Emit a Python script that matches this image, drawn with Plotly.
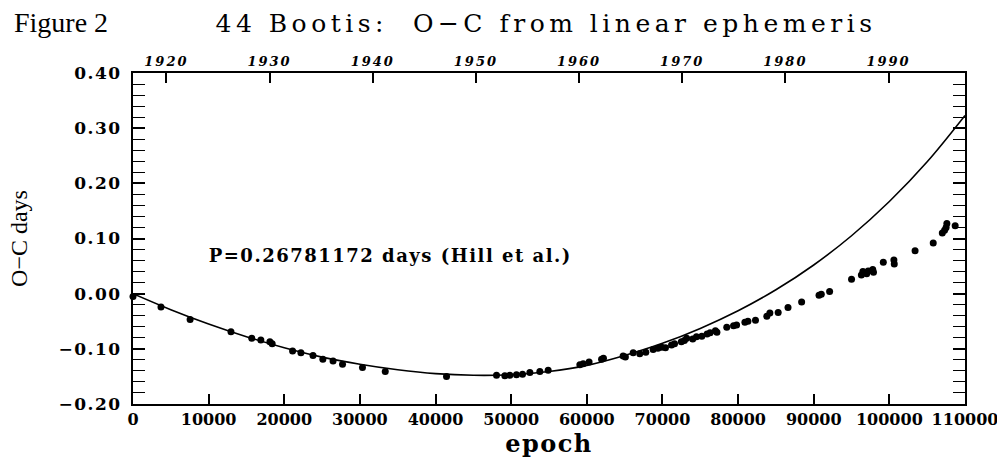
import plotly.graph_objects as go

# ---- data ----
epoch = [0, 3700, 7550, 12950, 15700, 16900, 18100, 18400, 21100, 22200, 23800,
         25100, 26450, 27700, 30340, 33350, 41450, 48060, 49160, 49820, 50700,
         51500, 52470, 53790, 54890, 59080, 59520, 60300, 61950, 62200, 64800,
         65100, 66130, 67000, 67800, 68770, 69400, 69900, 70400, 71200, 71600,
         72500, 72900, 73200, 74000, 74500, 75200, 75900, 76300, 77000, 77200,
         78500, 79400, 79800, 80900, 81300, 82300, 83800, 84200, 85300, 86600,
         88400, 90700, 91000, 92100, 95000, 96300, 96500, 97000, 97200, 97800,
         97900, 99200, 100600, 100650, 103400, 105800, 107000, 107300, 107500,
         107600, 108700]
o_minus_c = [-0.005, -0.024, -0.047, -0.069, -0.081, -0.084, -0.087, -0.091, -0.104,
             -0.107, -0.112, -0.119, -0.122, -0.128, -0.134, -0.141, -0.150, -0.148,
             -0.149, -0.148, -0.147, -0.146, -0.143, -0.141, -0.139, -0.129, -0.127,
             -0.124, -0.119, -0.117, -0.113, -0.115, -0.107, -0.109, -0.106, -0.101,
             -0.099, -0.097, -0.098, -0.093, -0.091, -0.087, -0.085, -0.081, -0.082,
             -0.078, -0.077, -0.073, -0.071, -0.067, -0.070, -0.061, -0.058, -0.057,
             -0.052, -0.050, -0.048, -0.041, -0.035, -0.034, -0.025, -0.015, -0.003,
             -0.001, 0.004, 0.026, 0.034, 0.040, 0.036, 0.041, 0.044, 0.039, 0.057,
             0.061, 0.054, 0.078, 0.092, 0.110, 0.115, 0.120, 0.127, 0.123]

curve_epoch = [0, 5000, 10000, 15000, 20000, 25000, 30000, 35000, 40000, 45000,
               50000, 55000, 60000, 65000, 70000, 75000, 80000, 85000, 90000,
               95000, 100000, 105000, 110000]
curve_oc = [0.000, -0.029, -0.055, -0.078, -0.098, -0.115, -0.128, -0.138, -0.145,
            -0.148, -0.147, -0.141, -0.130, -0.112, -0.090, -0.063, -0.031, 0.007,
            0.052, 0.105, 0.167, 0.239, 0.323]

year_ticks = [1920, 1930, 1940, 1950, 1960, 1970, 1980, 1990]
x_ticks = [0, 10000, 20000, 30000, 40000, 50000, 60000, 70000, 80000, 90000, 100000, 110000]
y_ticks = [-0.20, -0.10, 0.00, 0.10, 0.20, 0.30, 0.40]

period_days = 0.26781172
year_at_epoch0 = 1916.76
epoch_max = 110000
year_max = year_at_epoch0 + epoch_max * period_days / 365.25

SERIF = "DejaVu Serif"
W, H = 997, 461
PL, PR = 133, 965         # plot left / right in px
PT, PB = 73, 404          # plot top / bottom in px
PW, PH = PR - PL, PB - PT

fig = go.Figure()
fig.add_trace(go.Scatter(x=curve_epoch, y=curve_oc, mode="lines",
                         line=dict(color="black", width=1.6, shape="spline", smoothing=1.0),
                         hoverinfo="skip", showlegend=False))
fig.add_trace(go.Scatter(x=epoch, y=o_minus_c, mode="markers",
                         marker=dict(color="black", size=7),
                         cliponaxis=False, showlegend=False))
# invisible anchor trace so the top (year) axis is rendered
fig.add_trace(go.Scatter(x=[year_at_epoch0, year_max], y=[None, None], xaxis="x2",
                         mode="lines", showlegend=False, hoverinfo="skip"))

fig.update_layout(
    width=W, height=H,
    paper_bgcolor="white", plot_bgcolor="white",
    margin=dict(l=PL, r=W - PR, t=PT, b=H - PB, autoexpand=False),
    title=dict(text="44 Bootis:  O−C from linear ephemeris",
               font=dict(family=SERIF, size=25, color="black"),
               x=(546 - PL) / PW, xref="paper", xanchor="center",
               y=1 - 23 / H, yref="container", yanchor="middle"),
    xaxis=dict(range=[0, epoch_max], tickvals=x_ticks, tickformat="d",
               showline=True, linecolor="black", linewidth=2, mirror=True,
               ticks="inside", ticklen=10, tickwidth=1.5, tickcolor="black",
               showgrid=False, zeroline=False, automargin=False,
               ticklabeloverflow="allow",
               tickfont=dict(family=SERIF, size=16, color="black", weight="bold"),
               title=dict(text="epoch", standoff=7,
                          font=dict(family=SERIF, size=24, color="black", weight="bold"))),
    xaxis2=dict(overlaying="x", side="top", range=[year_at_epoch0, year_max],
                tickvals=year_ticks, ticks="inside", ticklen=10, tickwidth=1.5,
                tickcolor="black", showline=False, showgrid=False, zeroline=False,
                automargin=False, ticklabeloverflow="allow", ticklabelstandoff=3,
                tickfont=dict(family=SERIF, size=13, color="black", weight="bold",
                              style="italic")),
    yaxis=dict(range=[-0.2, 0.4], tickvals=y_ticks, tickformat=".2f",
               showline=True, linecolor="black", linewidth=2, mirror="allticks",
               ticks="inside", ticklen=12, tickwidth=1.5, tickcolor="black",
               ticklabelstandoff=6, automargin=False,
               minor=dict(dtick=0.02, ticks="inside", ticklen=5, tickwidth=1,
                          tickcolor="black", showgrid=False),
               showgrid=False, zeroline=False,
               tickfont=dict(family=SERIF, size=17, color="black", weight="bold"),
               title=dict(text="O−C days", standoff=32,
                          font=dict(family="Liberation Serif", size=24, color="black"))),
    annotations=[
        dict(text="Figure 2", xref="paper", yref="paper", x=(12 - PL) / PW,
             y=(PB - 23) / PH, xanchor="left", yanchor="middle", showarrow=False,
             font=dict(family="Liberation Serif", size=28, color="black")),
        dict(text="P=0.26781172 days (Hill et al.)", xref="paper", yref="paper",
             x=(230 - PL) / PW, y=(PB - 256) / PH, xanchor="left", yanchor="middle",
             showarrow=False,
             font=dict(family=SERIF, size=18, color="black", weight="bold")),
    ],
)

js = """
document.body.style.margin = '0px';
document.body.style.padding = '0px';
var s = document.createElement('style');
s.textContent = '.gtitle{letter-spacing:4.5px} .g-xtitle text{letter-spacing:1.5px} '
 + '.x2tick text{letter-spacing:2px} .ytick text{letter-spacing:1.5px} '
 + '.annotation[data-index="1"] text{letter-spacing:1.5px}';
document.head.appendChild(s);
"""
fig.write_html("out.html", post_script=js, config={"displayModeBar": False})
